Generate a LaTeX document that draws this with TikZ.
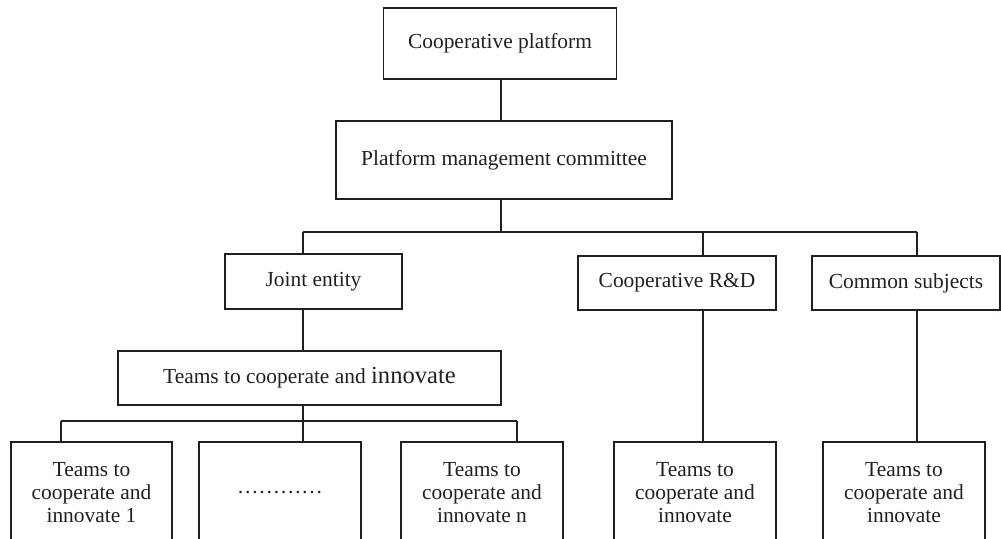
\documentclass[tikz,border=0pt]{standalone}
\usepackage{fontspec}
\setmainfont{Liberation Serif}
\usepackage{tikz}

\definecolor{ink}{RGB}{35,31,32}

\tikzset{
  orgbox/.style 2 args={draw=ink, text=ink, line width=1pt, inner sep=0pt,
    align=center, minimum width=#1*0.02cm, minimum height=#2*0.02cm,
    font=\fontsize{12.2}{13.2}\selectfont},
  link/.style={draw=ink, line width=1pt}
}

\begin{document}
\begin{tikzpicture}[x=0.02cm, y=-0.02cm]
\useasboundingbox (0,0) rectangle (1001,538);

% upper levels
\node[orgbox={233}{71}] (plat) at (500,43.5) {Cooperative platform};
\node[orgbox={336}{78}] (cmte) at (504,160) {Platform management committee};
\node[orgbox={177}{55}] (joint) at (313.5,281.5) {Joint entity};
\node[orgbox={198}{54}] (rnd) at (677,283) {Cooperative R\&D};
\node[orgbox={188}{54}] (common) at (906,283) {Common subjects};
\node[orgbox={383}{54}] (teams) at (309.5,378)
  {Teams to cooperate and {\fontsize{14}{15}\selectfont innovate}};

% bottom row
\node[orgbox={161}{101}] (t1) at (91.5,492.5) {Teams to\\cooperate and\\innovate 1};
\node[orgbox={162}{101}] (tdots) at (280,492.5) {…………};
\node[orgbox={162}{101}] (tn) at (482,492.5) {Teams to\\cooperate and\\innovate n};
\node[orgbox={162}{101}] (trnd) at (695,492.5) {Teams to\\cooperate and\\innovate};
\node[orgbox={162}{101}] (tcom) at (904,492.5) {Teams to\\cooperate and\\innovate};

% bus coordinates
\coordinate (bmid) at (501,232);
\coordinate (bjoint) at (303,232);
\coordinate (brnd) at (703,232);
\coordinate (bcom) at (917,232);
\coordinate (lmid) at (303,421);
\coordinate (l1) at (61,421);
\coordinate (ln) at (517,421);

% connectors
\draw[link] (plat.south -| bmid) -- (cmte.north -| bmid);
\draw[link] (cmte.south -| bmid) -- (bmid);
\draw[link] (bjoint) -- (bcom);
\draw[link] (bjoint) -- (bjoint |- joint.north);
\draw[link] (brnd) -- (brnd |- rnd.north);
\draw[link] (bcom) -- (bcom |- common.north);
\draw[link] (bjoint |- joint.south) -- (bjoint |- teams.north);
\draw[link] (lmid |- teams.south) -- (lmid);
\draw[link] (l1) -- (ln);
\draw[link] (l1) -- (l1 |- t1.north);
\draw[link] (lmid) -- (lmid |- tdots.north);
\draw[link] (ln) -- (ln |- tn.north);
\draw[link] (brnd |- rnd.south) -- (brnd |- trnd.north);
\draw[link] (bcom |- common.south) -- (bcom |- tcom.north);
\end{tikzpicture}
\end{document}
